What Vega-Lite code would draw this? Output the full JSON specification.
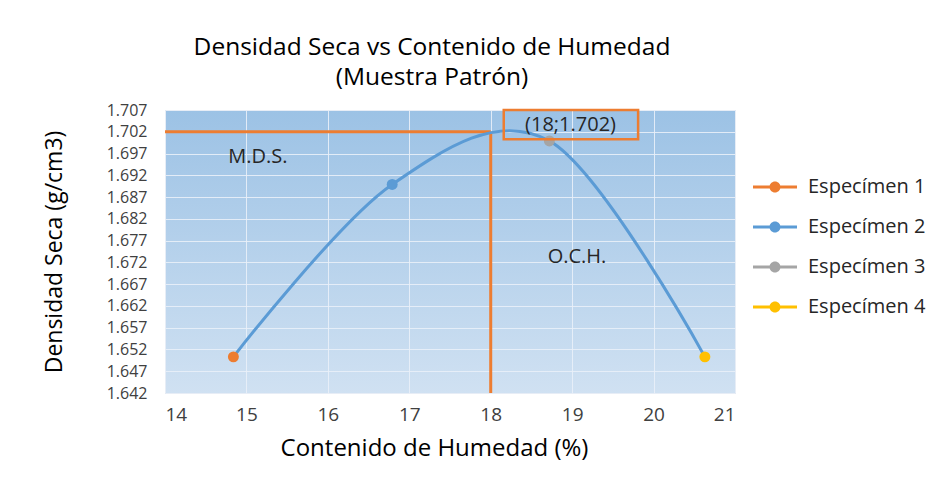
{
  "$schema": "https://vega.github.io/schema/vega-lite/v6.json",
  "width": 570,
  "height": 283,
  "autosize": {"type": "none"},
  "padding": {"left": 165, "top": 110, "right": 200, "bottom": 108},
  "background": "white",
  "config": {
    "font": "Open Sans",
    "view": {
      "stroke": "#d0d7df",
      "fill": {"gradient": "linear", "x1": 0, "y1": 0, "x2": 0, "y2": 1,
        "stops": [{"offset": 0, "color": "#9cc2e5"}, {"offset": 1, "color": "#d0e1f2"}]}
    },
    "axis": {"gridColor": "#e9f0f8", "gridWidth": 1, "gridOpacity": 0.9, "domain": false, "ticks": false,
      "labelColor": "#404040", "labelFont": "Open Sans", "titleFont": "Open Sans", "titleFontWeight": "normal", "titleColor": "#000000"}
  },
  "title": {
    "text": ["Densidad Seca vs Contenido de Humedad", "(Muestra Patrón)"],
    "fontSize": 24.5, "fontWeight": "normal", "font": "Open Sans", "color": "#000000",
    "anchor": "middle", "dx": -18, "offset": 12, "lineHeight": 30
  },
  "datasets": {
    "puntos": [
      {"humedad": 14.84, "densidad": 1.6503, "especimen": "Especímen 1"},
      {"humedad": 16.79, "densidad": 1.6899, "especimen": "Especímen 2"},
      {"humedad": 18.72, "densidad": 1.6999, "especimen": "Especímen 3"},
      {"humedad": 20.63, "densidad": 1.6503, "especimen": "Especímen 4"}
    ],
    "guias": [
      {"humedad": 14, "humedad2": 18, "densidad": 1.702, "densidad2": 1.702},
      {"humedad": 18, "humedad2": 18, "densidad": 1.702, "densidad2": 1.642}
    ],
    "notas": [
      {"humedad": 15.14, "densidad": 1.6961, "texto": "M.D.S."},
      {"humedad": 19.06, "densidad": 1.6732, "texto": "O.C.H."},
      {"humedad": 18.98, "densidad": 1.7035, "texto": "(18;1.702)"}
    ],
    "caja": [
      {"humedad": 18.16, "humedad2": 19.81, "densidad": 1.707, "densidad2": 1.7003}
    ]
  },
  "layer": [
    {
      "data": {"name": "guias"},
      "mark": {"type": "rule", "color": "#ed7d31", "strokeWidth": 3},
      "encoding": {
        "x": {"field": "humedad", "type": "quantitative",
          "scale": {"domain": [14, 21], "nice": false},
          "axis": {"values": [14, 15, 16, 17, 18, 19, 20, 21], "tickCount": 20, "format": "d", "labelFontSize": 19, "labelPadding": 12,
            "title": "Contenido de Humedad (%)", "titleFontSize": 24, "titlePadding": 12, "titleX": 269, "titleAlign": "center"}},
        "x2": {"field": "humedad2"},
        "y": {"field": "densidad", "type": "quantitative",
          "scale": {"domain": [1.642, 1.707], "nice": false, "zero": false},
          "axis": {"values": [1.642, 1.647, 1.652, 1.657, 1.662, 1.667, 1.672, 1.677, 1.682, 1.687, 1.692, 1.697, 1.702, 1.707],
            "tickCount": 30, "format": ".3f", "labelFontSize": 16, "labelPadding": 18, "labelOverlap": false,
            "title": "Densidad Seca (g/cm3)", "titleFontSize": 23, "titlePadding": 40}},
        "y2": {"field": "densidad2"}
      }
    },
    {
      "data": {"name": "puntos"},
      "mark": {"type": "line", "interpolate": "cardinal", "tension": 0, "color": "#5b9bd5", "strokeWidth": 3},
      "encoding": {
        "x": {"field": "humedad", "type": "quantitative"},
        "y": {"field": "densidad", "type": "quantitative"}
      }
    },
    {
      "data": {"name": "puntos"},
      "mark": {"type": "point", "filled": true, "size": 120, "opacity": 1},
      "encoding": {
        "x": {"field": "humedad", "type": "quantitative"},
        "y": {"field": "densidad", "type": "quantitative"},
        "color": {"field": "especimen", "type": "nominal",
          "scale": {"domain": ["Especímen 1", "Especímen 2", "Especímen 3", "Especímen 4"],
            "range": ["#ed7d31", "#5b9bd5", "#a5a5a5", "#ffc000"]},
          "legend": {"title": null, "orient": "none", "legendX": 599, "legendY": 66,
            "symbolType": "M-2,-0.13H2V0.13H-2Z M0.5,0 A0.5,0.5 0 1,1 -0.5,0 A0.5,0.5 0 1,1 0.5,0Z",
            "symbolSize": 484, "symbolStrokeWidth": 0, "labelFontSize": 20, "labelColor": "#262626",
            "labelOffset": 22, "rowPadding": 19, "labelFont": "Open Sans"}}
      }
    },
    {
      "data": {"name": "caja"},
      "mark": {"type": "rect", "fill": null, "fillOpacity": 0, "stroke": "#ed7d31", "strokeWidth": 2.5},
      "encoding": {
        "x": {"field": "humedad", "type": "quantitative"},
        "x2": {"field": "humedad2"},
        "y": {"field": "densidad", "type": "quantitative"},
        "y2": {"field": "densidad2"}
      }
    },
    {
      "data": {"name": "notas"},
      "mark": {"type": "text", "fontSize": 20, "color": "#262626", "font": "Open Sans"},
      "encoding": {
        "x": {"field": "humedad", "type": "quantitative"},
        "y": {"field": "densidad", "type": "quantitative"},
        "text": {"field": "texto"}
      }
    }
  ]
}
